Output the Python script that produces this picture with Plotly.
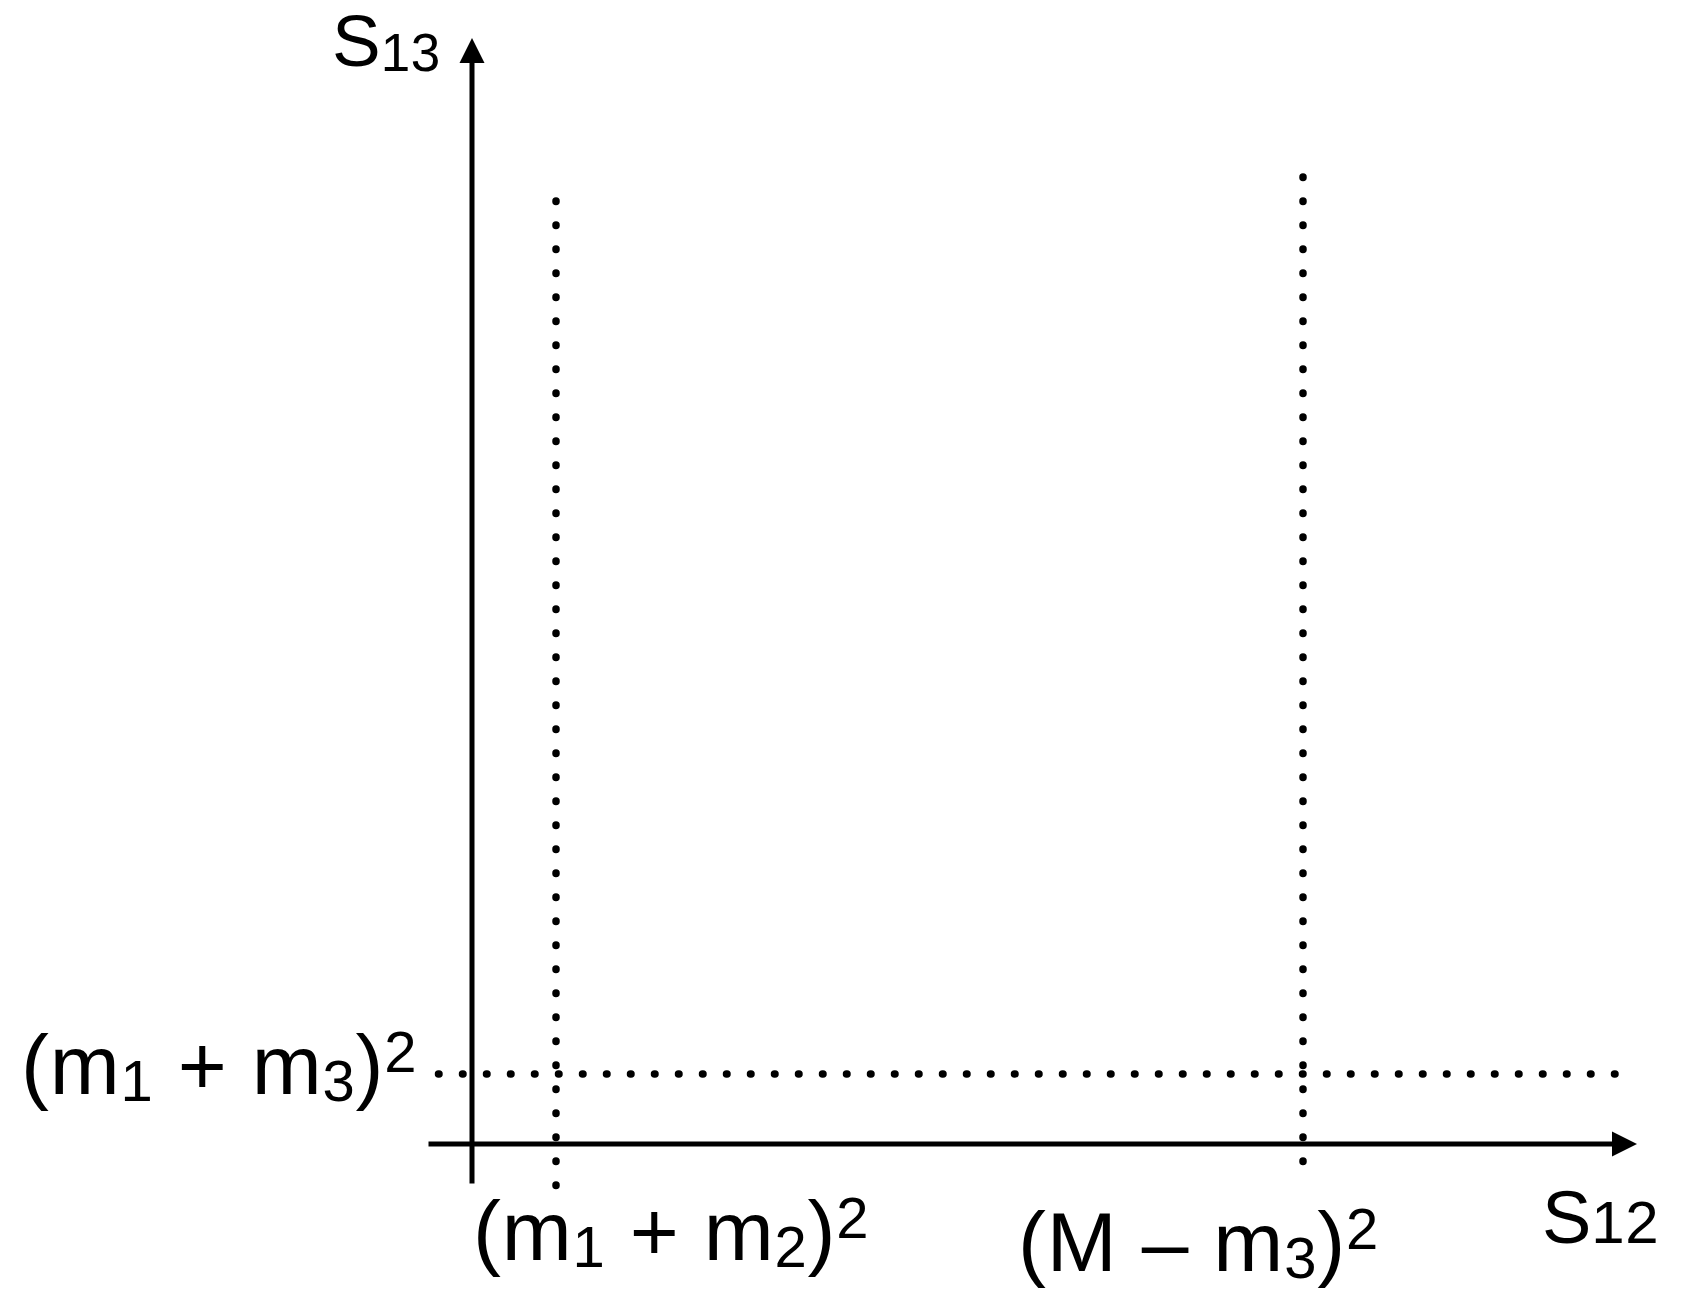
import plotly.graph_objects as go

# ---- data (schematic Dalitz-plot boundaries, arbitrary units) ----
s12_min = 0.84      # (m1 + m2)^2
s12_max = 8.31      # (M - m3)^2
s13_min = 0.70      # (m1 + m3)^2

x_axis_span = [-0.45, 11.65]     # s12 axis extent
y_axis_span = [-0.41, 11.06]     # s13 axis extent
v1_span = [-0.415, 9.495]        # extent of dotted line at s12_min
v2_span = [-0.175, 9.735]        # extent of dotted line at s12_max
h_span = [-0.335, 11.505]        # extent of dotted line at s13_min

axis_titles = ["s12", "s13"]
threshold_labels = ["(m1 + m2)2", "(M \u2013 m3)2", "(m1 + m3)2"]

FONT = "Liberation Sans"
BIG = 84
SMALL = 58
LS = "letter-spacing:0.8px"


def seg(t, size, shift=0, ls=LS):
    return f'<span style="font-size:{size}px;baseline-shift:{shift}px;{ls}">{t}</span>'


def fmt_mass(label):
    # "(m1 + m2)2" -> rich text: digits after letters are subscripts, last char is the square
    body, last = label[:-1], label[-1]
    out, run = "", ""
    for ch in body:
        if ch.isdigit():
            if run:
                out += seg(run, BIG)
                run = ""
            out += seg(ch, SMALL, -7)
        else:
            run += ch
    if run:
        out += seg(run, BIG)
    return out + seg(last, SMALL, 22)


def fmt_axis(label, big, small, shift):
    return seg(label[0].upper(), big, 0, "") + seg(label[1:], small, shift, "letter-spacing:0.5px")


dot_line = dict(color="black", width=7.5, dash="0.5px,23.5px")

fig = go.Figure()
fig.add_trace(go.Scatter(x=[s12_min, s12_min], y=v1_span, mode="lines", line=dot_line, hoverinfo="skip"))
fig.add_trace(go.Scatter(x=[s12_max, s12_max], y=v2_span, mode="lines", line=dot_line, hoverinfo="skip"))
fig.add_trace(go.Scatter(x=h_span, y=[s13_min, s13_min], mode="lines", line=dot_line, hoverinfo="skip"))

# axes with arrowheads
arrow = dict(showarrow=True, arrowhead=2, arrowsize=1, arrowwidth=5, arrowcolor="black",
             xref="x", yref="y", axref="x", ayref="y", text="", standoff=0, startstandoff=0)
fig.add_annotation(x=x_axis_span[1], y=0, ax=x_axis_span[0], ay=0, **arrow)
fig.add_annotation(x=0, y=y_axis_span[1], ax=0, ay=y_axis_span[0], **arrow)


def txt(size):
    return dict(showarrow=False, xref="x", yref="y", font=dict(family=FONT, size=size, color="black"),
                xanchor="left", yanchor="middle")


fig.add_annotation(x=-1.42, y=11.03, text=fmt_axis(axis_titles[1], 73, 53, -5), **txt(60))
fig.add_annotation(x=10.68, y=-0.73, text=fmt_axis(axis_titles[0], 74, 60, 0), **txt(60))
fig.add_annotation(x=-4.53, y=0.79, text=fmt_mass(threshold_labels[2]), **txt(BIG))
fig.add_annotation(x=-0.01, y=-0.87, text=fmt_mass(threshold_labels[0]), **txt(BIG))
fig.add_annotation(x=5.44, y=-0.98, text=fmt_mass(threshold_labels[1]), **txt(BIG))

fig.update_layout(
    width=1684, height=1289, autosize=False,
    margin=dict(l=0, r=0, t=0, b=0, pad=0),
    paper_bgcolor="white", plot_bgcolor="white",
    showlegend=False,
    xaxis=dict(range=[-4.72, 12.12], visible=False, fixedrange=True),
    yaxis=dict(range=[-1.45, 11.44], visible=False, fixedrange=True),
)

round_dots = ("document.querySelectorAll('.scatterlayer .js-line').forEach("
              "function(p){p.style.strokeLinecap='round';});")
fig.write_html("out.html", post_script=round_dots)
